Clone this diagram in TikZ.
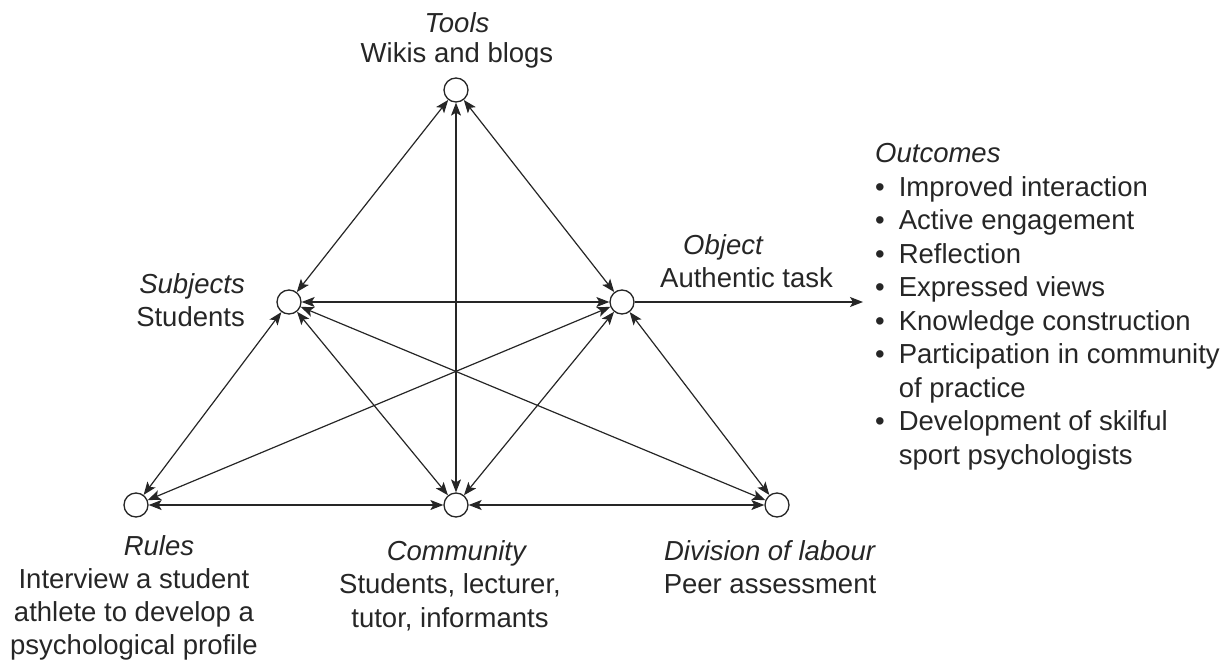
\documentclass[tikz,border=0pt]{standalone}
\usepackage{fontspec}
\setmainfont{Liberation Sans}
\usetikzlibrary{arrows.meta}
\begin{document}
\begin{tikzpicture}[x=1pt,y=-1pt,
  lbl/.style={inner sep=0pt, font=\fontsize{27.5}{33.5}\selectfont, text=black!85},
  vtx/.style={circle, draw=black!85, line width=1.3pt, minimum size=24pt, inner sep=0pt, fill=white},
  link/.style={line width=1.2pt, draw=black!85, {Stealth[length=13pt,width=10pt,inset=3pt]}-{Stealth[length=13pt,width=10pt,inset=3pt]}},
  onelink/.style={line width=1.2pt, draw=black!85, -{Stealth[length=13pt,width=10pt,inset=3pt]}}]
\useasboundingbox (0,0) rectangle (1230,660);
% vertices
\node[vtx] (T) at (456,90) {};
\node[vtx] (S) at (289,302) {};
\node[vtx] (O) at (622,302) {};
\node[vtx] (R) at (136,505) {};
\node[vtx] (C) at (456,505) {};
\node[vtx] (D) at (777,505) {};
\coordinate (out) at (863,302);
% connectors
\draw[link] (T) -- (S);
\draw[link] (T) -- (O);
\draw[link] (T) -- (C);
\draw[link] (S) -- (O);
\draw[link] (S) -- (R);
\draw[link] (S) -- (C);
\draw[link] (S) -- (D);
\draw[link] (O) -- (R);
\draw[link] (O) -- (C);
\draw[link] (O) -- (D);
\draw[link] (R) -- (C);
\draw[link] (C) -- (D);
\draw[onelink] (O) -- (out);
% labels
\node[lbl, anchor=north, align=center] (tl) at (457,12) {\textit{Tools}\\[-3pt]Wikis and blogs};
\node[lbl, anchor=north east, align=right] (sl) at (245,273) {\textit{Subjects}\\Students};
\node[lbl, anchor=north west, align=left] (ol) at (660,234) {\hspace*{23pt}\textit{Object}\\Authentic task};
\node[lbl, anchor=north, align=center] (rl) at (134,535) {\hspace*{50pt}\textit{Rules}\\[-0.5pt]Interview a student\\[-0.5pt]athlete to develop a\\[-0.5pt]psychological profile};
\node[lbl, anchor=north, align=center] (cl) at (450,540) {\hspace*{14pt}\textit{Community}\\Students, lecturer,\\tutor, informants};
\node[lbl, anchor=north, align=center] (dl) at (770,540) {\textit{Division of labour}\\Peer assessment};
\node[lbl, anchor=north west] (ul) at (875,139.3) {\begin{tabular}{@{}l@{\hspace{14pt}}l@{}}
\multicolumn{2}{@{}l@{}}{\textit{Outcomes}}\\
\textbullet & Improved interaction\\
\textbullet & Active engagement\\
\textbullet & Reflection\\
\textbullet & Expressed views\\
\textbullet & Knowledge construction\\
\textbullet & Participation in community\\
 & of practice\\
\textbullet & Development of skilful\\
 & sport psychologists
\end{tabular}};
\end{tikzpicture}
\end{document}
